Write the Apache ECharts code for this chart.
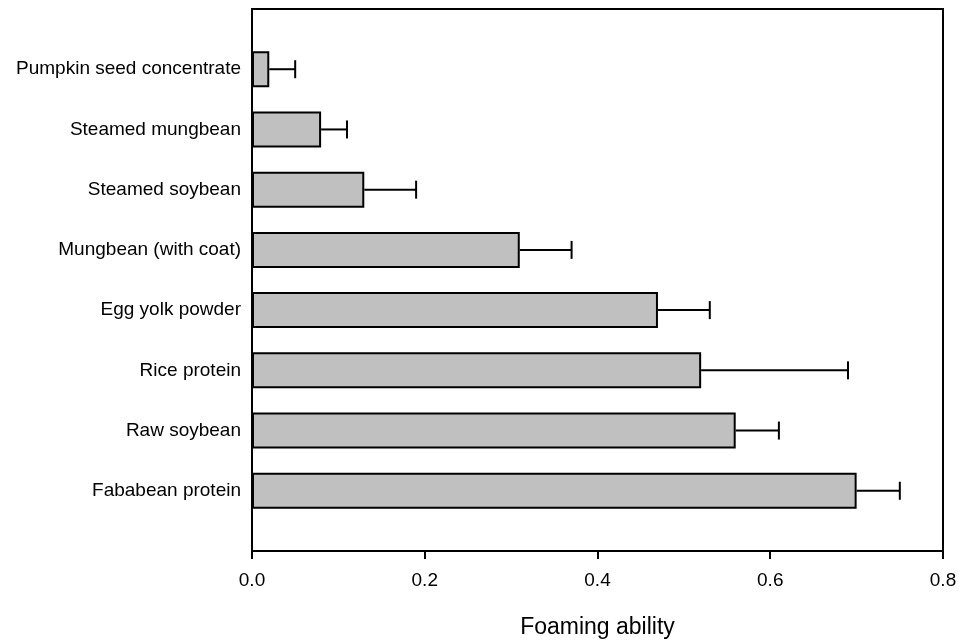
<!DOCTYPE html>
<html>
<head>
<meta charset="utf-8">
<script src="https://cdn.jsdelivr.net/npm/echarts@6/dist/echarts.min.js"></script>
<style>
  html, body { margin: 0; padding: 0; background: #fff; }
  #chart { width: 961px; height: 644px; }
</style>
</head>
<body>
<div id="chart"></div>
<script>
// samples, top to bottom
var samples = ['Pumpkin seed concentrate', 'Steamed mungbean', 'Steamed soybean',
  'Mungbean (with coat)', 'Egg yolk powder', 'Rice protein', 'Raw soybean', 'Fababean protein'];
var foaming = [0.02, 0.08, 0.13, 0.31, 0.47, 0.52, 0.56, 0.70];
var errUpper = [0.05, 0.11, 0.19, 0.37, 0.53, 0.69, 0.61, 0.75];
var xTicks = [0, 0.2, 0.4, 0.6, 0.8];

// pad with blank slots so bars sit one slot away from the frame
var cats = [''].concat(samples, ['']);
var barData = ['-'].concat(foaming, ['-']);
var errData = samples.map(function (s, i) {
  return [foaming[i], i + 1, errUpper[i]];
});

var chart = echarts.init(document.getElementById('chart'));
var font = 'Liberation Sans, Arial, sans-serif';

chart.setOption({
  animation: false,
  grid: {
    left: 252, right: 18, top: 9, bottom: 93,
    show: true, borderColor: '#000', borderWidth: 2
  },
  xAxis: {
    type: 'value',
    min: xTicks[0], max: xTicks[xTicks.length - 1], interval: 0.2,
    name: 'Foaming ability',
    nameLocation: 'middle', nameGap: 65,
    nameTextStyle: { color: '#000', fontSize: 23, fontFamily: font },
    axisLine: { show: true, lineStyle: { color: '#000', width: 2 } },
    axisTick: { show: true, length: 8, lineStyle: { color: '#000', width: 2 } },
    axisLabel: {
      color: '#000', fontSize: 19, fontFamily: font, margin: 20,
      formatter: function (v) { return v.toFixed(1); }
    },
    splitLine: { show: false }
  },
  yAxis: {
    type: 'category',
    data: cats,
    inverse: true,
    boundaryGap: false,
    axisLine: { show: true, lineStyle: { color: '#000', width: 2 } },
    axisTick: { show: false },
    axisLabel: { color: '#000', fontSize: 19, fontFamily: font, margin: 11, interval: 0 },
    splitLine: { show: false }
  },
  series: [
    {
      type: 'bar',
      data: barData,
      barWidth: 36,
      itemStyle: { color: '#c0c0c0', borderColor: '#000', borderWidth: 2 }
    },
    {
      type: 'custom',
      data: errData,
      z: 3,
      renderItem: function (params, api) {
        var start = api.coord([api.value(0), api.value(1)]);
        var end = api.coord([api.value(2), api.value(1)]);
        var style = { stroke: '#000', lineWidth: 2 };
        return {
          type: 'group',
          children: [
            { type: 'line', shape: { x1: start[0], y1: start[1], x2: end[0], y2: end[1] }, style: style },
            { type: 'line', shape: { x1: end[0], y1: end[1] - 9, x2: end[0], y2: end[1] + 9 }, style: style }
          ]
        };
      }
    }
  ]
});
</script>
</body>
</html>
